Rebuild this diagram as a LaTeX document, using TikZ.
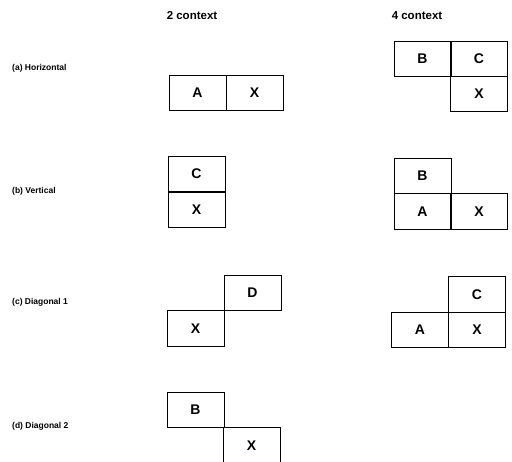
\documentclass[tikz,border=0pt]{standalone}
\usepackage{fontspec}
\setmainfont{Liberation Sans}
\begin{document}
\begin{tikzpicture}[x=1pt,y=-1pt,
  cell/.style={draw, line width=0.8pt, minimum width=57pt, minimum height=35.5pt, inner sep=0pt, outer sep=0pt, font=\bfseries\fontsize{14}{16}\selectfont},
  head/.style={font=\bfseries\fontsize{11.5}{13}\selectfont, inner sep=0pt},
  rowlabel/.style={anchor=west, font=\bfseries\fontsize{8.5}{10}\selectfont, inner sep=0pt}]
\useasboundingbox (0,0) rectangle (512,462);
% headers
\node[head] (h2) at (192,16) {2 context};
\node[head] (h4) at (417,16) {4 context};
% row labels
\node[rowlabel] (la) at (12,68) {(a) Horizontal};
\node[rowlabel] (lb) at (12,191) {(b) Vertical};
\node[rowlabel] (lc) at (12,302) {(c) Diagonal 1};
\node[rowlabel] (ld) at (12,426) {(d) Diagonal 2};
% (a) horizontal
\node[cell] (a2A) at (197.5,93) {A};
\node[cell] (a2X) at (254.5,93) {X};
\node[cell] (a4B) at (422.5,59) {B};
\node[cell] (a4C) at (479,59) {C};
\node[cell] (a4X) at (479,94) {X};
% (b) vertical
\node[cell] (b2C) at (196.5,174) {C};
\node[cell] (b2X) at (196.5,210) {X};
\node[cell] (b4B) at (422.5,176) {B};
\node[cell] (b4A) at (422.5,211.5) {A};
\node[cell] (b4X) at (479,211.5) {X};
% (c) diagonal 1
\node[cell] (c2D) at (252.5,293) {D};
\node[cell] (c2X) at (195.5,328.5) {X};
\node[cell] (c4C) at (477,294.5) {C};
\node[cell] (c4X) at (477,330) {X};
\node[cell] (c4A) at (420,330) {A};
% (d) diagonal 2
\node[cell] (d2B) at (195.5,410) {B};
\node[cell] (d2X) at (251.5,445.5) {X};
\end{tikzpicture}
\end{document}
